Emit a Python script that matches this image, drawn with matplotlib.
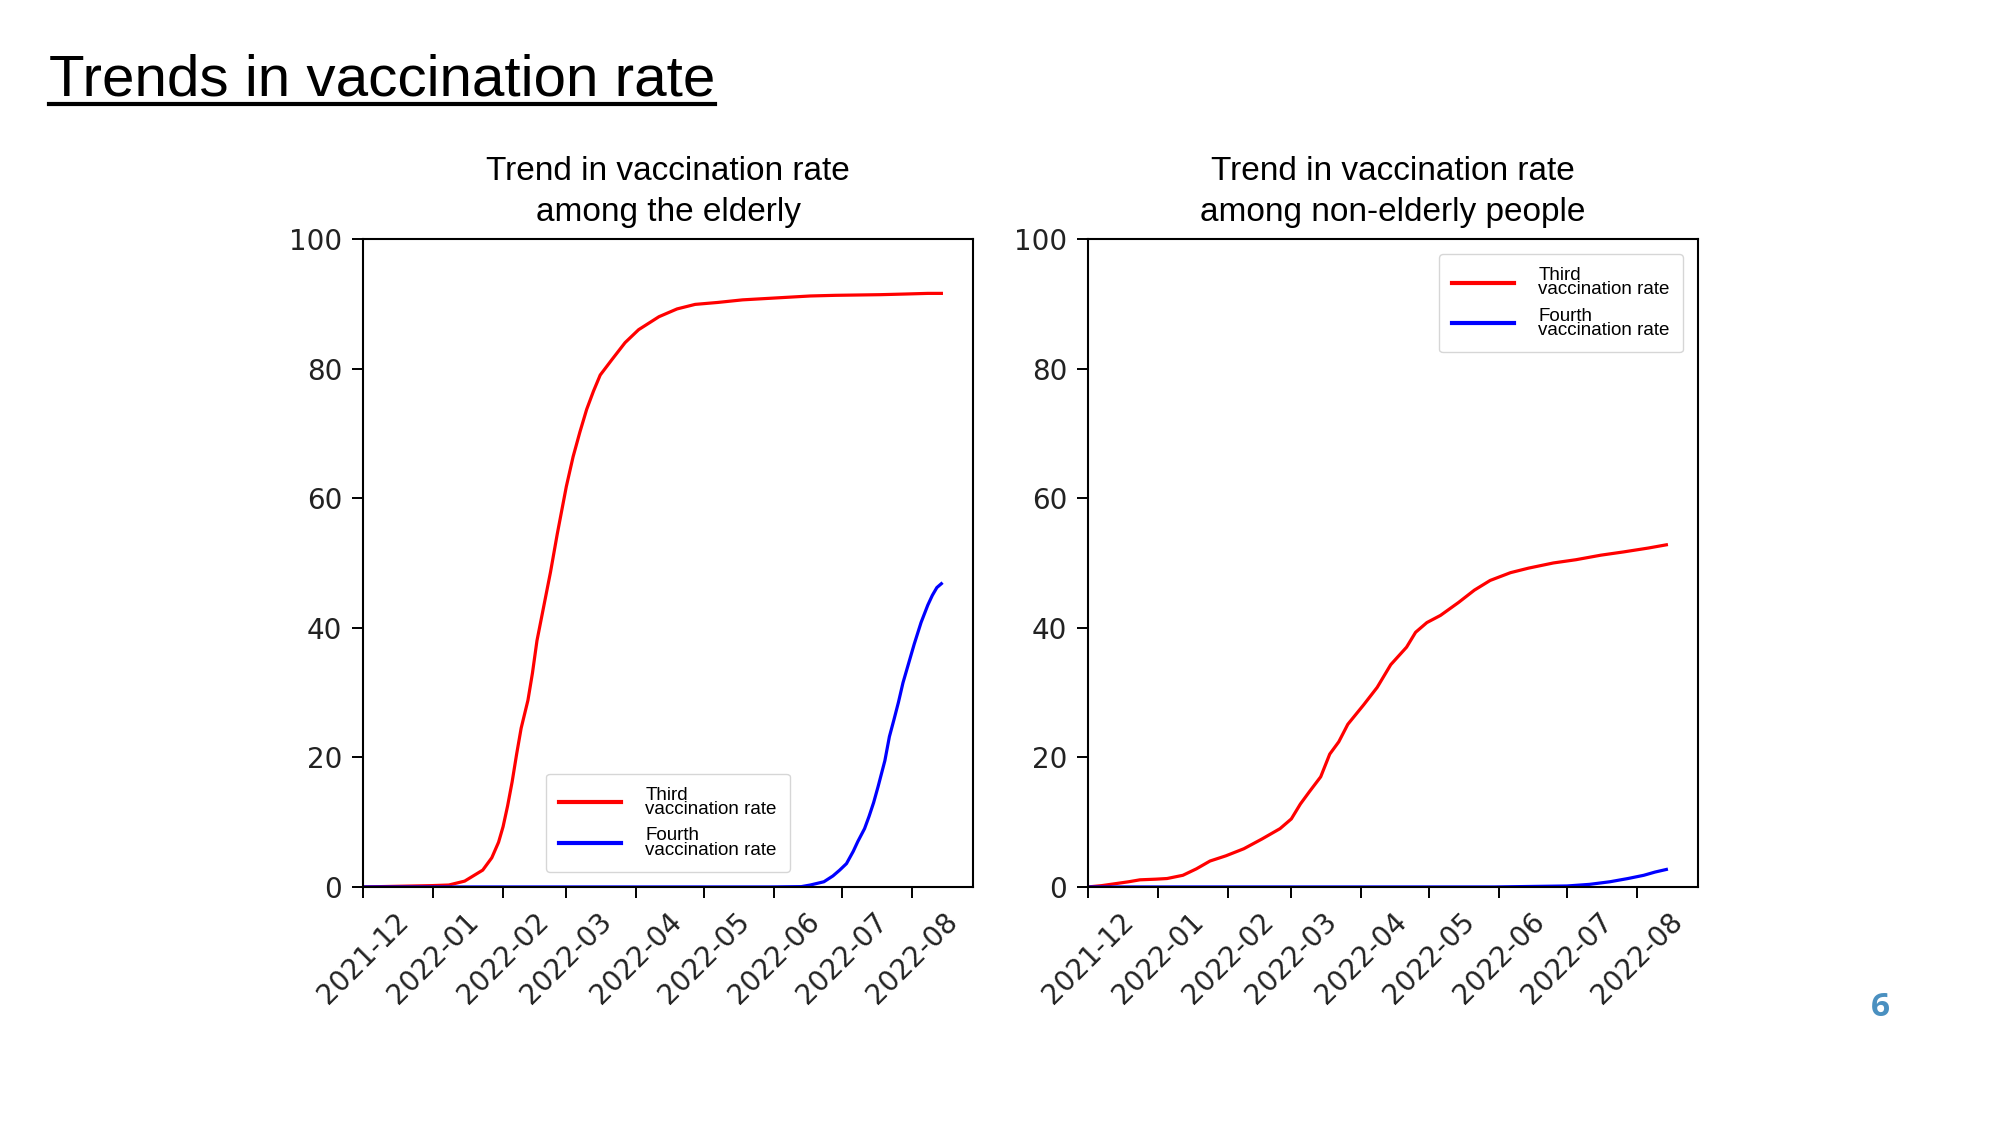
import pandas as pd
import matplotlib
matplotlib.use("Agg")
import matplotlib.pyplot as plt
import matplotlib.dates as mdates
from matplotlib.lines import Line2D

# days counted from 2021-12-01, values in percent
start = pd.Timestamp("2021-12-01")

elderly_3rd_days = [0, 15, 30, 38, 45, 53, 57, 60, 62, 64, 66, 68, 70, 73, 75, 77, 80, 83,
                    86, 90, 93, 96, 99, 102, 105, 110, 116, 122, 131, 139, 147, 157, 168,
                    178, 188, 198, 209, 219, 229, 240, 250, 256]
elderly_3rd_vals = [0.0, 0.1, 0.2, 0.3, 0.9, 2.6, 4.5, 6.9, 9.3, 12.5, 16.2, 20.5, 24.5,
                    28.8, 33.0, 38.0, 43.3, 48.6, 54.5, 61.8, 66.4, 70.2, 73.7, 76.5, 79.0,
                    81.3, 84.0, 86.0, 88.0, 89.2, 89.9, 90.2, 90.6, 90.8, 91.0, 91.2, 91.3,
                    91.35, 91.4, 91.5, 91.6, 91.6]

elderly_4th_days = [0, 60, 120, 180, 194, 198, 204, 208, 211, 214, 217, 219, 222, 224, 226,
                    228, 231, 233, 235, 237, 239, 241, 244, 247, 250, 252, 254, 256]
elderly_4th_vals = [0.0, 0.0, 0.0, 0.0, 0.05, 0.3, 0.8, 1.7, 2.6, 3.6, 5.5, 7.0, 9.0, 10.9,
                    13.0, 15.5, 19.5, 23.2, 25.8, 28.5, 31.5, 33.9, 37.5, 40.8, 43.5, 45.0,
                    46.2, 46.8]

young_3rd_days = [0, 6, 12, 18, 23, 30, 35, 42, 48, 54, 61, 69, 77, 85, 90, 94, 98, 103,
                  107, 111, 115, 122, 128, 134, 141, 145, 150, 156, 164, 171, 178, 187, 195,
                  206, 216, 227, 237, 248, 256]
young_3rd_vals = [0.0, 0.2, 0.5, 0.8, 1.1, 1.2, 1.3, 1.8, 2.8, 4.0, 4.8, 5.9, 7.4, 9.0,
                  10.5, 12.8, 14.7, 17.0, 20.5, 22.4, 25.1, 28.1, 30.8, 34.3, 37.0, 39.3,
                  40.8, 41.9, 43.9, 45.8, 47.3, 48.5, 49.2, 50.0, 50.5, 51.2, 51.7, 52.3,
                  52.8]

young_4th_days = [0, 60, 120, 180, 212, 222, 231, 239, 246, 251, 256]
young_4th_vals = [0.0, 0.0, 0.0, 0.0, 0.15, 0.4, 0.8, 1.3, 1.8, 2.3, 2.7]

labels = ["Third\nvaccination rate", "Fourth\nvaccination rate"]
titles = ["Trend in vaccination rate\namong the elderly",
          "Trend in vaccination rate\namong non-elderly people"]


def to_dates(days):
    return start + pd.to_timedelta(days, unit="D")


fig = plt.figure(figsize=(20, 11.25), dpi=100)
ax1 = fig.add_axes([0.1815, 0.2116, 0.305, 0.576])
ax2 = fig.add_axes([0.544, 0.2116, 0.305, 0.576])

series = [
    (ax1, elderly_3rd_days, elderly_3rd_vals, elderly_4th_days, elderly_4th_vals, "lower center"),
    (ax2, young_3rd_days, young_3rd_vals, young_4th_days, young_4th_vals, "upper right"),
]

for i, (ax, d3, v3, d4, v4, loc) in enumerate(series):
    ax.plot(to_dates(d3), v3, color="#ff0000", lw=2.3, label=labels[0])
    ax.plot(to_dates(d4), v4, color="#0000ff", lw=2.3, label=labels[1])
    ax.set_xlim(pd.Timestamp("2021-12-01"), pd.Timestamp("2022-08-28"))
    ax.set_ylim(0, 100)
    ax.set_yticks([0, 20, 40, 60, 80, 100])
    ax.xaxis.set_major_locator(mdates.MonthLocator())
    ax.xaxis.set_major_formatter(mdates.DateFormatter("%Y-%m"))
    ax.tick_params(length=8, width=1.4, pad=7, labelsize=20, labelcolor="#222222")
    for lab in ax.get_xticklabels():
        lab.set_rotation(45)
    for sp in ax.spines.values():
        sp.set_linewidth(1.5)
    ax.set_title(titles[i], fontsize=24, family="Liberation Sans", pad=13, linespacing=1.4)
    leg = ax.legend(loc=loc, prop={"family": "Liberation Sans", "size": 13.5},
                    handlelength=3.3, handletextpad=1.3, borderaxespad=0.8,
                    borderpad=0.7, labelspacing=0.5)
    for t in leg.get_texts():
        t.set_linespacing(0.8)
    for h in leg.get_lines():
        h.set_linewidth(3)

title = fig.text(49 / 2000, 1 - 95 / 1125, "Trends in vaccination rate",
                 fontsize=42, family="Liberation Sans", va="baseline", ha="left")
fig.canvas.draw()
bb = title.get_window_extent().transformed(fig.transFigure.inverted())
fig.add_artist(Line2D([bb.x0, bb.x1], [1 - 104 / 1125] * 2, color="black", lw=3,
                      transform=fig.transFigure))

fig.text(1880 / 2000, 1 - 1008 / 1125, "6", fontsize=24, fontweight="bold",
         family="Open Sans", color="#4a90c0", ha="center", va="center")

fig.savefig("out.png", dpi=100)
